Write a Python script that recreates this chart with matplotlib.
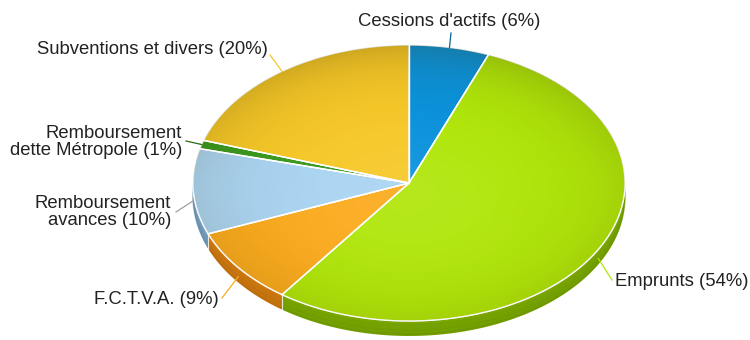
import numpy as np
import matplotlib
matplotlib.use("Agg")
import matplotlib.pyplot as plt
from matplotlib.patches import Polygon, Ellipse
from matplotlib.colors import to_rgb

# Répartition des recettes d'investissement (%)
categories = [
    "Cessions d'actifs",
    "Emprunts",
    "F.C.T.V.A.",
    "Remboursement\navances",
    "Remboursement\ndette Métropole",
    "Subventions et divers",
]
values = [6, 54, 9, 10, 1, 20]

top_colors = ["#0a92dc", "#b0e60a", "#fbab1e", "#aad4f2", "#3a9a1e", "#f6c828"]
side_colors = ["#07659a", "#74a000", "#c6740e", "#6f98b8", "#256a10", "#b88e10"]

# pie geometry (pixel units, y downwards)
CX, CY, RX, RY, DEPTH = 409.0, 183.0, 216.0, 138.0, 15.0

# label placement: (x, y, ha)
label_pos = [
    (449, 22, "center"),
    (615, 281, "left"),
    (219, 300, "right"),
    (171, 212, "right"),
    (182, 142, "right"),
    (268, 50, "right"),
]
leader_end = [(451, 33), (612, 280), (222, 298), (176, 212), (186, 141), (270, 55)]

plt.rcParams["font.family"] = ["Liberation Sans", "DejaVu Sans"]
fig = plt.figure(figsize=(7.5, 3.4), dpi=100)
ax = fig.add_axes([0, 0, 1, 1])
ax.set_xlim(0, 750)
ax.set_ylim(340, 0)
ax.axis("off")


def rim(t0, t1, n=120, dy=0.0):
    t = np.radians(np.linspace(t0, t1, n))
    return CX + RX * np.sin(t), CY - RY * np.cos(t) + dy


total = float(sum(values))
bounds = np.concatenate([[0], np.cumsum(values)]) / total * 360.0

# side walls on the front half
for i in range(len(values)):
    a, b = max(bounds[i], 90.0), min(bounds[i + 1], 270.0)
    if b <= a:
        continue
    xs, ys = rim(a, b)
    pts = np.column_stack([np.concatenate([xs, xs[::-1]]),
                           np.concatenate([ys, (ys + DEPTH)[::-1]])])
    ax.add_patch(Polygon(pts, closed=True, fc=side_colors[i], ec="none", zorder=1))
    base = np.array(to_rgb(side_colors[i]))
    for k in range(4):
        xs2, ys2 = rim(a, b, dy=DEPTH * (k / 4))
        ax.plot(xs2, ys2 + DEPTH / 8, color=np.clip(base * (1.15 - 0.1 * k), 0, 1),
                lw=1.2, alpha=0.35, zorder=1.1, solid_capstyle="butt")

# separators on the side wall
for t in bounds[1:-1]:
    if 90 < t < 270:
        x, y = rim(t, t, 1)
        ax.plot([x[0], x[0]], [y[0], y[0] + DEPTH], color="white", lw=0.8, alpha=0.8, zorder=1.2)

# top faces
for i in range(len(values)):
    xs, ys = rim(bounds[i], bounds[i + 1])
    pts = np.column_stack([np.concatenate([[CX], xs]), np.concatenate([[CY], ys])])
    ax.add_patch(Polygon(pts, closed=True, fc=top_colors[i], ec="white", lw=1.0, zorder=2))

# radial shading over the top face
clip = Ellipse((CX, CY), 2 * RX, 2 * RY, fc="none", ec="none")
ax.add_patch(clip)
gx = np.linspace(CX - RX, CX + RX, 400)
gy = np.linspace(CY - RY, CY + RY, 260)
X, Y = np.meshgrid(gx, gy)
r = np.sqrt(((X - CX) / RX) ** 2 + ((Y - CY) / RY) ** 2)
up = np.clip((CY - Y) / RY, 0, 1)
shade = np.zeros(X.shape + (4,))
shade[..., 0] = 0.25
shade[..., 1] = 0.2
shade[..., 3] = np.clip(0.22 * r ** 4 * (0.5 + 0.5 * up), 0, 0.25)
img = ax.imshow(shade, extent=(CX - RX, CX + RX, CY + RY, CY - RY), origin="upper",
                zorder=2.5, interpolation="bilinear", aspect="auto")
img.set_clip_path(clip)
hi = np.zeros(X.shape + (4,))
hi[..., :3] = 1.0
down = np.clip((Y - (CY - RY)) / (2 * RY), 0, 1)
hi[..., 3] = np.clip(0.16 * (1 - r) ** 1.5, 0, 0.2) * down
img2 = ax.imshow(hi, extent=(CX - RX, CX + RX, CY + RY, CY - RY), origin="upper",
                 zorder=2.6, interpolation="bilinear", aspect="auto")
img2.set_clip_path(clip)

# redraw slice separators above the shading
for t in bounds[:-1]:
    x, y = rim(t, t, 1)
    ax.plot([CX, x[0]], [CY, y[0]], color="white", lw=1.0, zorder=3)

# soft highlight along the front rim
xs, ys = rim(95, 265)
ax.plot(xs, ys, color="white", lw=0.9, alpha=0.55, zorder=3)

# leader lines and labels
for i, cat in enumerate(categories):
    mid = (bounds[i] + bounds[i + 1]) / 2
    x0, y0 = rim(mid, mid, 1)
    x0, y0 = x0[0], y0[0]
    if 90 < mid < 270:
        y0 += DEPTH * 0.6
    ex, ey = leader_end[i]
    lc = side_colors[i] if i != 3 else "#9aa0a6"
    if i in (1, 2, 5):
        lc = top_colors[i]
    ax.plot([x0, ex], [y0, ey], color=lc, lw=0.9, zorder=4)
    lx, ly, ha = label_pos[i]
    ax.text(lx, ly, f"{cat} ({values[i]}%)", ha=ha, va="center", ma=ha,
            fontsize=13.3, color="#222222", linespacing=1.05, zorder=5)

fig.savefig("out.png", dpi=100, facecolor="white")
